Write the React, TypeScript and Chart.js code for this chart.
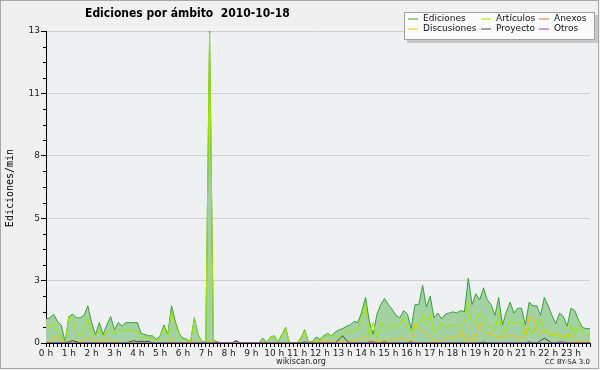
import { useEffect, useRef } from 'react';
import { Chart, registerables } from 'chart.js';

Chart.register(...registerables);

const chartTitle = 'Ediciones por ámbito  2010-10-18';
const yAxisTitle = 'Ediciones/min';
const footerCenter = 'wikiscan.org';
const footerRight = 'CC BY-SA 3.0';

const hourLabels = ['0 h', '1 h', '2 h', '3 h', '4 h', '5 h', '6 h', '7 h', '8 h', '9 h', '10 h', '11 h',
  '12 h', '13 h', '14 h', '15 h', '16 h', '17 h', '18 h', '19 h', '20 h', '21 h', '22 h', '23 h'];
const minuteLabels = ['00', '10', '20', '30', '40', '50'];
const categories = hourLabels.flatMap((_h, hi) => minuteLabels.map((m) => `${hi}:${m}`));

const yTickValues = [0, 2.6, 5.2, 7.8, 10.4, 13];
const yTickLabels = ['0', '3', '5', '8', '11', '13'];

// 10-minute slots, 6 per hour
const ediciones = [
  1.0, 1.05, 1.2, 0.9, 0.75, 0.05, 1.1, 1.2, 1.05, 1.05, 1.15, 1.55,
  0.85, 0.35, 0.85, 0.35, 0.75, 1.1, 0.55, 0.85, 0.7, 0.85, 0.85, 0.85,
  0.85, 0.4, 0.35, 0.3, 0.3, 0.15, 0.3, 0.75, 0.35, 1.55, 0.9, 0.4,
  0.2, 0.15, 0.05, 1.05, 0.35, 0.05, 0.05, 13, 0.1, 0.05, 0, 0,
  0, 0, 0.08, 0, 0, 0, 0, 0, 0, 0.2, 0.02, 0.25,
  0.3, 0.05, 0.35, 0.65, 0, 0, 0, 0.2, 0.55, 0.05, 0.05, 0.25,
  0.15, 0.3, 0.4, 0.3, 0.45, 0.55, 0.6, 0.7, 0.75, 0.9, 0.85, 1.3,
  1.9, 0.9, 0.35, 1.2, 1.6, 1.85, 1.6, 1.4, 1.15, 1.05, 1.35, 1.2,
  0.6, 1.6, 1.6, 2.4, 1.5, 1.95, 1.05, 1.25, 1.0, 1.2, 1.25, 1.3,
  1.25, 1.35, 1.3, 2.7, 1.6, 2.05, 1.8, 2.3, 1.8, 1.6, 1.15, 1.9,
  0.75, 1.3, 1.7, 1.25, 1.45, 1.45, 0.75, 1.7, 1.55, 1.55, 1.15, 1.9,
  1.55, 1.15, 0.8, 1.25, 1.1, 0.7, 1.45, 1.35, 0.95, 0.65, 0.6, 0.6,
];

const articulos = [
  0.85, 0.65, 0.85, 0.4, 0.3, 0.0, 1.05, 1.0, 0.4, 0.3, 0.6, 1.0,
  0.4, 0.3, 0.55, 0.25, 0.4, 0.55, 0.35, 0.55, 0.5, 0.55, 0.55, 0.5,
  0.5, 0.25, 0.25, 0.2, 0.15, 0.1, 0.25, 0.65, 0.3, 1.3, 0.75, 0.35,
  0.15, 0.1, 0.05, 1.0, 0.3, 0.05, 0.0, 12.9, 0.05, 0, 0, 0,
  0, 0, 0, 0, 0, 0, 0, 0, 0, 0.05, 0, 0.25,
  0.28, 0.05, 0.3, 0.6, 0, 0, 0, 0.15, 0.5, 0.05, 0.02, 0.1,
  0.1, 0.25, 0.3, 0.3, 0.3, 0.25, 0.3, 0.45, 0.5, 0.5, 0.55, 1.1,
  1.65, 0.3, 0.85, 0.2, 0.85, 0.7, 0.55, 0.85, 0.6, 0.75, 1.05, 0.6,
  0.45, 0.8, 0.75, 1.15, 0.8, 1.2, 0.4, 0.5, 0.8, 0.65, 0.7, 0.75,
  0.7, 0.75, 0.9, 1.7, 0.75, 0.85, 1.25, 1.1, 0.8, 0.6, 0.5, 1.3,
  0.4, 0.6, 1.0, 0.8, 0.85, 0.85, 0.3, 0.65, 0.35, 0.7, 1.0, 0.5,
  0.4, 0.3, 0.3, 0.3, 0.3, 0.05, 0.75, 0.35, 0.75, 0.45, 0.35, 0.35,
];

const anexos = [
  0, 0, 0, 0, 0, 0, 0, 0, 0, 0, 0, 0,
  0, 0, 0, 0, 0, 0, 0, 0, 0, 0, 0, 0,
  0, 0, 0, 0, 0, 0, 0, 0, 0, 0, 0, 0,
  0, 0, 0, 0, 0, 0, 0, 0, 0, 0, 0, 0,
  0, 0, 0, 0, 0, 0, 0, 0, 0, 0, 0, 0,
  0, 0, 0, 0, 0, 0, 0, 0, 0, 0, 0, 0,
  0, 0, 0, 0, 0, 0, 0, 0, 0, 0, 0, 0,
  0, 0, 0, 0, 0, 0, 0, 0, 0, 0, 0, 0,
  0, 0, 0, 0, 0, 0, 0, 0, 0, 0, 0, 0,
  0, 0, 0, 0, 0, 0, 0, 0, 0, 0, 0, 0,
  0, 0, 0, 0, 0, 0, 0, 0, 0, 0, 0, 0,
  0, 0, 0, 0, 0, 0, 0, 0, 0, 0, 0, 0,
];

const discusiones = [
  0, 0.05, 0.25, 0.25, 0.15, 0, 0.02, 0.05, 0.05, 0.05, 0.1, 0.25,
  0.15, 0.1, 0.1, 0.05, 0.2, 0.1, 0.05, 0.02, 0.02, 0.02, 0.02, 0.02,
  0.02, 0, 0, 0, 0, 0, 0, 0.02, 0.02, 0.2, 0.05, 0,
  0, 0, 0.05, 0.05, 0, 0, 0, 0.1, 0.05, 0, 0, 0,
  0, 0, 0, 0, 0, 0, 0, 0, 0, 0, 0, 0,
  0, 0, 0, 0, 0, 0, 0, 0, 0, 0, 0.02, 0.02,
  0.1, 0.1, 0.1, 0.05, 0.05, 0.05, 0.05, 0.05, 0.05, 0.1, 0.15, 0.2,
  0.3, 0.1, 0.1, 0.05, 0.1, 0.1, 0.15, 0.1, 0.15, 0.2, 0.2, 0.1,
  0.05, 0.75, 0.65, 0.55, 0.4, 0.25, 0.05, 0.05, 0.05, 0.2, 0.2, 0.2,
  0.25, 0.55, 0.05, 0.35, 0.05, 0.25, 0.85, 0.5, 0.35, 0.35, 0.3, 0.25,
  0.25, 0.3, 0.3, 0.3, 0.25, 0.2, 0.2, 1.1, 1.1, 0.55, 0.45, 0.45,
  0.5, 0.35, 0.45, 0.25, 0.3, 0.3, 0.3, 0.1, 0.05, 0.05, 0.05, 0.05,
];

const proyecto = [
  0, 0, 0, 0, 0, 0, 0.05, 0.1, 0.05, 0, 0, 0,
  0, 0, 0, 0, 0, 0, 0, 0, 0, 0, 0.05, 0.1,
  0.05, 0.08, 0.05, 0.07, 0, 0, 0, 0, 0, 0, 0, 0,
  0, 0, 0, 0, 0, 0, 0, 0, 0, 0, 0, 0,
  0, 0, 0.1, 0, 0, 0, 0, 0, 0, 0, 0, 0,
  0, 0, 0, 0, 0, 0, 0, 0, 0.05, 0, 0, 0,
  0, 0, 0, 0, 0, 0.15, 0.3, 0.1, 0, 0, 0, 0,
  0, 0, 0, 0, 0, 0.05, 0, 0, 0, 0, 0, 0,
  0.05, 0, 0, 0, 0, 0, 0, 0, 0, 0, 0, 0,
  0, 0, 0, 0, 0, 0, 0, 0.05, 0, 0, 0, 0,
  0, 0, 0, 0, 0, 0, 0, 0.05, 0, 0, 0.1, 0.2,
  0.1, 0, 0, 0, 0, 0, 0, 0, 0, 0, 0, 0,
];

const otros = [
  0, 0, 0, 0, 0, 0, 0, 0, 0, 0, 0, 0,
  0, 0, 0, 0, 0, 0, 0, 0, 0, 0, 0, 0,
  0, 0, 0, 0, 0, 0, 0, 0, 0, 0, 0, 0,
  0, 0, 0, 0, 0, 0, 0, 0, 0, 0, 0, 0,
  0, 0, 0, 0, 0, 0, 0, 0, 0, 0, 0, 0,
  0, 0, 0, 0, 0, 0, 0, 0, 0, 0, 0, 0,
  0, 0, 0, 0, 0, 0, 0, 0, 0, 0, 0, 0,
  0, 0.05, 0.05, 0, 0, 0, 0, 0, 0, 0, 0, 0,
  0, 0, 0, 0, 0, 0, 0, 0, 0, 0, 0, 0,
  0, 0, 0, 0, 0, 0, 0, 0, 0, 0, 0, 0,
  0, 0, 0, 0, 0, 0, 0, 0, 0, 0, 0, 0,
  0, 0, 0, 0.05, 0.05, 0, 0, 0, 0, 0, 0, 0,
];

const seriesNames = ['Ediciones', 'Artículos', 'Anexos', 'Discusiones', 'Proyecto', 'Otros'];
const seriesData = [ediciones, articulos, anexos, discusiones, proyecto, otros];
const seriesColors = ['#3a9e3a', '#9ee600', '#f07030', '#f2c200', '#444444', '#9040e0'];
const legendSlots = [[0, 0], [1, 0], [2, 0], [0, 1], [1, 1], [2, 1]];

const decorPlugin = {
  id: 'decor',
  beforeDraw(chart: any) {
    const { ctx, chartArea: a, width, height } = chart;
    ctx.save();
    ctx.fillStyle = '#f0f0f0';
    ctx.fillRect(0, 0, width, height);
    ctx.fillStyle = '#eff0f1';
    ctx.fillRect(a.left, a.top, a.right - a.left, a.bottom - a.top);
    ctx.restore();
  },
  afterDraw(chart: any) {
    const { ctx, chartArea: a } = chart;
    const ys = chart.scales.y;
    ctx.save();
    // minor y ticks
    ctx.strokeStyle = '#000';
    ctx.lineWidth = 1;
    for (let k = 0; k <= 20; k++) {
      if (k % 4 === 0) continue;
      const y = Math.round(ys.getPixelForValue(k * 0.65)) + 0.5;
      ctx.beginPath();
      ctx.moveTo(a.left - 3, y);
      ctx.lineTo(a.left, y);
      ctx.stroke();
    }
    // title
    ctx.fillStyle = '#000';
    ctx.font = 'bold 12px "DejaVu Sans Condensed", "DejaVu Sans"';
    ctx.textAlign = 'left';
    ctx.textBaseline = 'middle';
    ctx.fillText(chartTitle, 85, 14);
    // y axis title
    ctx.save();
    ctx.translate(10, 188);
    ctx.rotate(-Math.PI / 2);
    ctx.font = '10px "DejaVu Sans Mono"';
    ctx.textAlign = 'center';
    ctx.fillText(yAxisTitle, 0, 0);
    ctx.restore();
    // footer
    ctx.font = '8px "DejaVu Sans"';
    ctx.fillStyle = '#222';
    ctx.textAlign = 'center';
    ctx.fillText(footerCenter, 301, 362);
    ctx.font = '7px "DejaVu Sans"';
    ctx.textAlign = 'right';
    ctx.fillText(footerRight, 590, 362);
    // legend box
    ctx.fillStyle = '#c8c8c8';
    ctx.fillRect(407, 15, 191, 28);
    ctx.fillStyle = '#fbfbfb';
    ctx.fillRect(404, 12, 191, 28);
    ctx.strokeStyle = '#a0a0a0';
    ctx.strokeRect(404.5, 12.5, 190, 27);
    const colX = [408, 481, 539];
    const rowY = [19, 29];
    ctx.font = '9px "DejaVu Sans"';
    ctx.textAlign = 'left';
    seriesNames.forEach((name, i) => {
      const [c, r] = legendSlots[i];
      const x = colX[c];
      const y = rowY[r];
      ctx.strokeStyle = seriesColors[i];
      ctx.beginPath();
      ctx.moveTo(x, y);
      ctx.lineTo(x + 10, y);
      ctx.stroke();
      ctx.fillStyle = '#111';
      ctx.fillText(name, x + 15, y);
    });
    // outer frame
    ctx.strokeStyle = '#a8a8a8';
    ctx.strokeRect(0.5, 0.5, 598, 368);
    ctx.restore();
  },
};

export default function App() {
  const ref = useRef<HTMLCanvasElement | null>(null);
  useEffect(() => {
    document.body.style.margin = '0';
    const canvas = ref.current;
    if (!canvas) return;
    const datasets = seriesNames.map((name, i) => ({
      label: name,
      data: seriesData[i],
      borderColor: seriesColors[i],
      backgroundColor: i === 0 ? '#a2d2a2' : seriesColors[i],
      fill: i === 0 ? 'origin' : false,
      borderWidth: 1,
      pointRadius: 0,
      tension: 0,
      order: i === 0 ? 10 : i === 1 ? 5 : 6 - i,
    }));
    const chart = new Chart(canvas, {
      type: 'line',
      data: { labels: categories, datasets },
      plugins: [decorPlugin],
      options: {
        responsive: false,
        animation: false,
        events: [],
        layout: { padding: { left: 0, right: 10, top: 31, bottom: 12 } },
        plugins: { legend: { display: false }, title: { display: false }, tooltip: { enabled: false } },
        scales: {
          x: {
            type: 'category',
            offset: false,
            grid: { drawOnChartArea: false, drawTicks: true, tickLength: 4, tickColor: '#000' },
            border: { color: '#000', width: 1 },
            afterFit(scale: any) { scale.height = 15; },
            ticks: {
              autoSkip: false,
              maxRotation: 0,
              minRotation: 0,
              padding: 1,
              color: '#222',
              font: { family: 'DejaVu Sans', size: 9 },
              callback: (_v: any, idx: number) => (idx % minuteLabels.length === 0 ? hourLabels[idx / minuteLabels.length] : ''),
            },
          },
          y: {
            min: 0,
            max: 13,
            afterFit(scale: any) { scale.width = 46; },
            afterBuildTicks(scale: any) { scale.ticks = yTickValues.map((v) => ({ value: v })); },
            grid: { color: '#cfcfcf', tickColor: '#000', tickLength: 5 },
            border: { color: '#000', width: 1 },
            ticks: {
              padding: 1,
              color: '#222',
              font: { family: 'DejaVu Sans', size: 9 },
              callback: (v: any) => {
                const k = yTickValues.indexOf(Number(v));
                return k >= 0 ? yTickLabels[k] : '';
              },
            },
          },
        },
      } as any,
    });
    return () => chart.destroy();
  }, []);
  return <canvas ref={ref} width={600} height={370} style={{ display: 'block' }} />;
}
